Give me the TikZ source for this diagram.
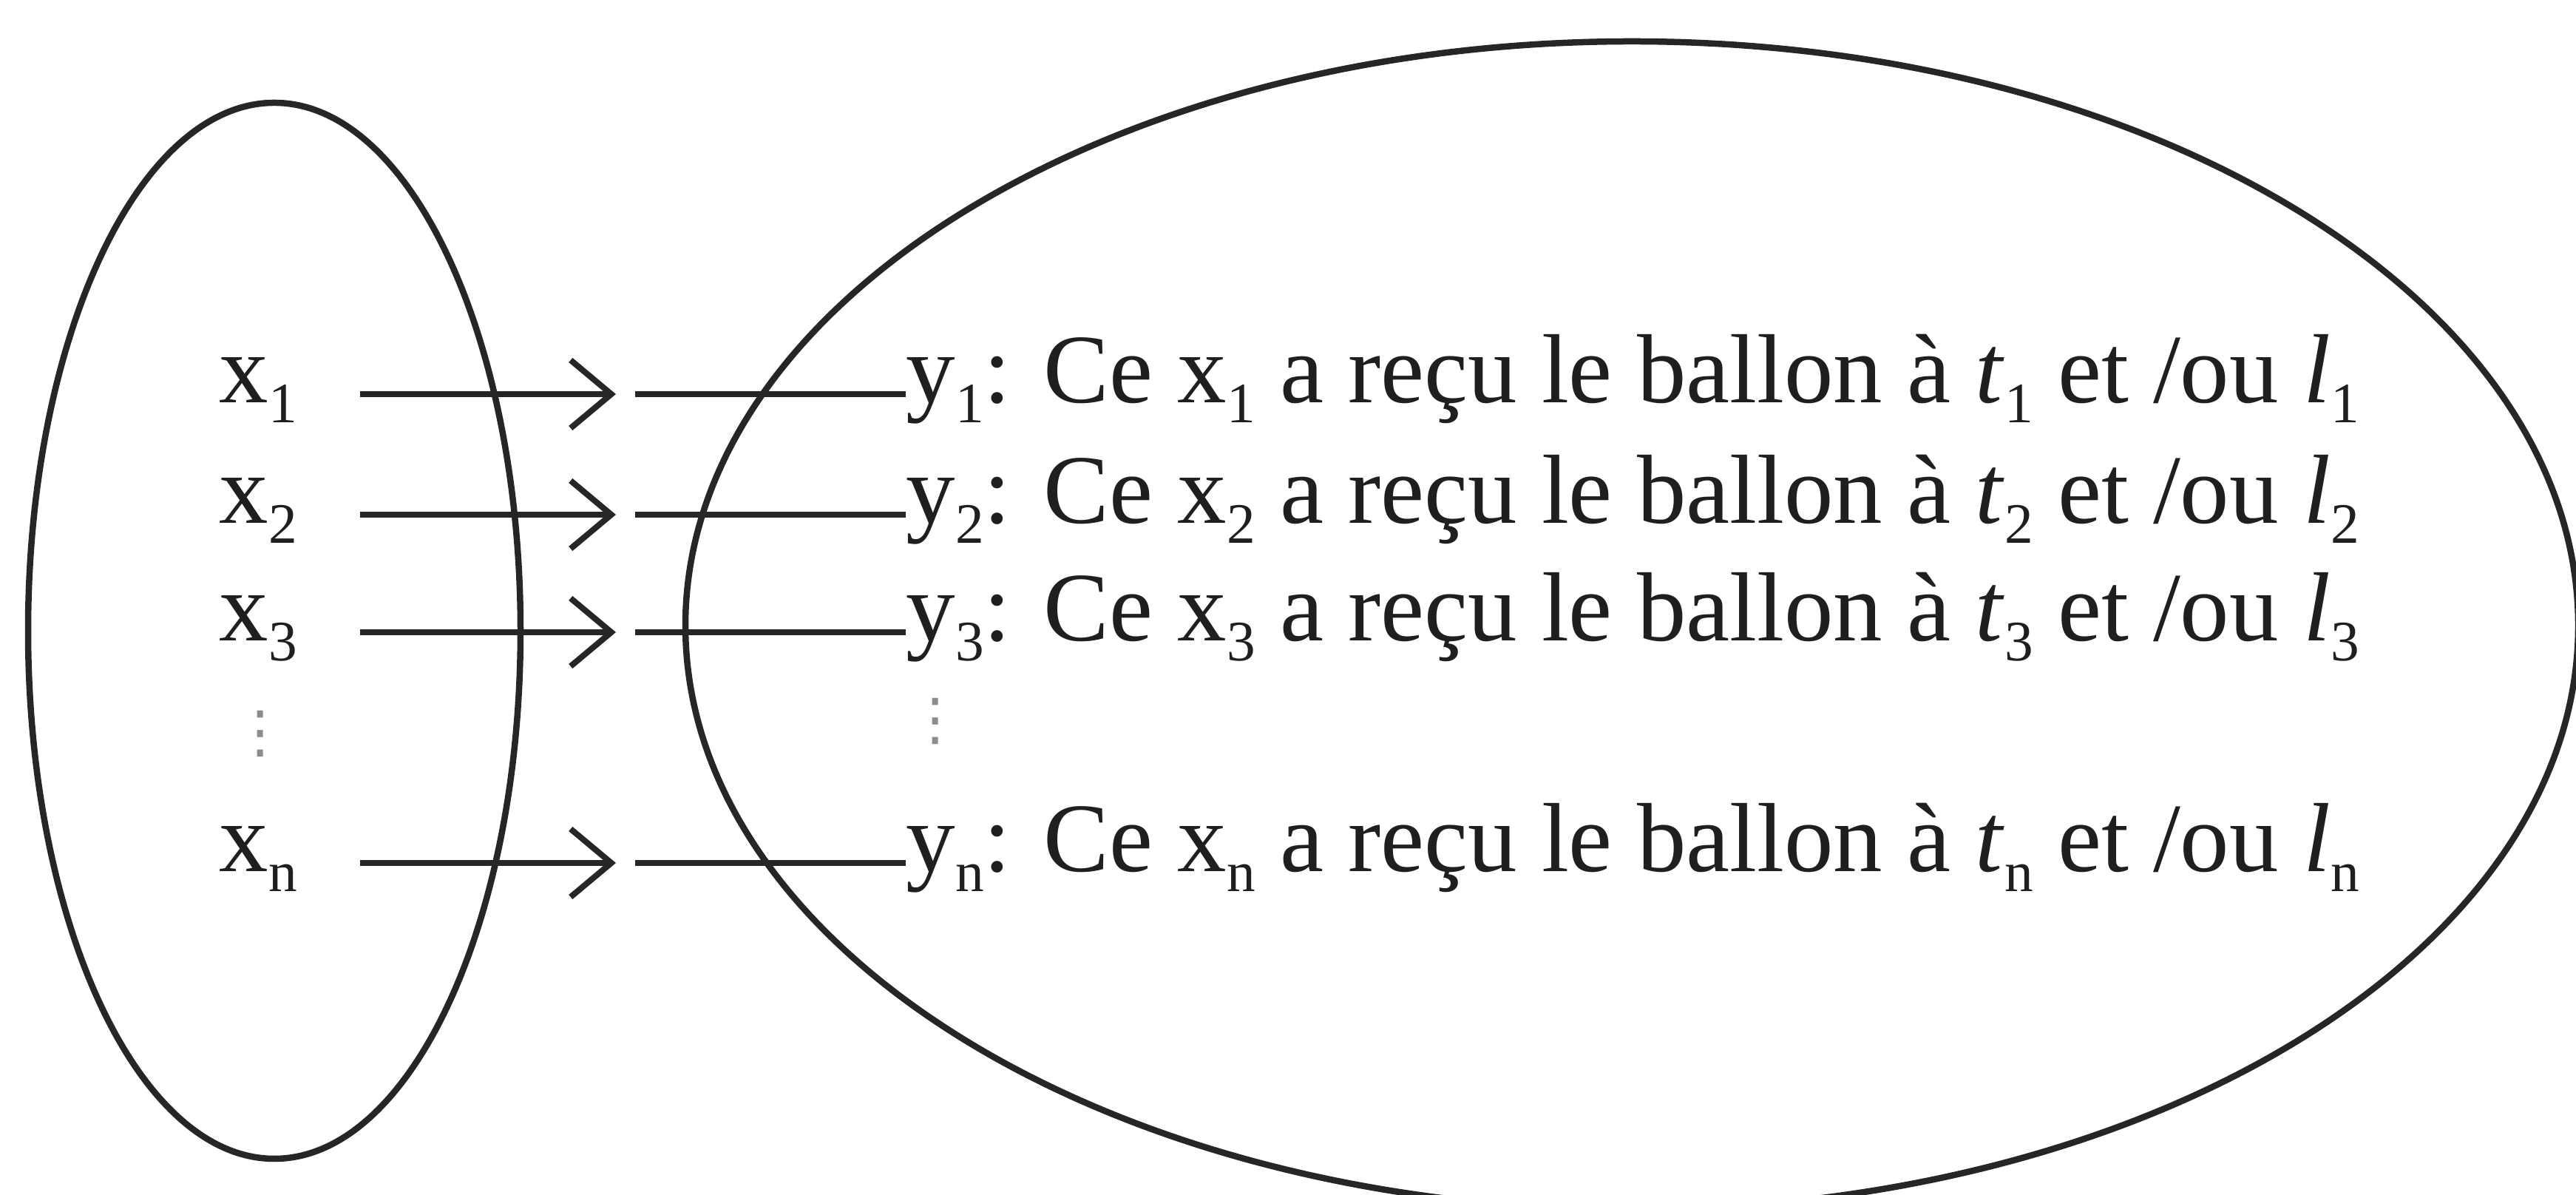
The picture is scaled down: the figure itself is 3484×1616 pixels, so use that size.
\documentclass[tikz,border=0pt]{standalone}
\usepackage{fontspec}
\setmainfont{Liberation Serif}
\newfontfamily\dejavu{DejaVu Sans}
\usetikzlibrary{arrows.meta}
\newcommand\lowidx[1]{\raisebox{-0.2em}{\fontsize{22}{24}\selectfont #1}}
\begin{document}
\begin{tikzpicture}[x=0.1mm,y=0.1mm,
  outline/.style={draw=black!85, line width=0.85mm},
  lbl/.style={inner sep=0pt, anchor=west, text height=0.66em, text depth=0pt,
              font=\fontsize{37.8}{45}\selectfont, text=black!88},
  arr/.style={draw=black!85, line width=0.8mm, shorten <=8.5mm,
              -{Straight Barb[length=5.5mm,width=9.2mm]}},
  link/.style={draw=black!85, line width=0.8mm},
  vdotsstyle/.style={font=\dejavu\fontsize{22}{26}\selectfont, text=black!45, inner sep=0pt}]
\fill[white] (0,0) rectangle (3484,1616);
\useasboundingbox (0,0) rectangle (3484,1616);

% sets
\draw[outline] (371,763) ellipse [x radius=333, y radius=714];
\draw[outline] (2207,770) ellipse [x radius=1280, y radius=790];

% row 1
\node[lbl] (x1) at (296,1083) {x\lowidx{1}};
\coordinate (t1) at (833,1083);
\coordinate (u1) at (859,1083);
\node[lbl] (y1) at (1225,1083) {y\lowidx{1}: Ce x\lowidx{1} a reçu le ballon à \textit{t}\lowidx{1} et /ou \textit{l}\lowidx{1}};
\draw[arr] (x1.east) -- (t1);
\draw[link] (u1) -- (y1.west);

% row 2
\node[lbl] (x2) at (296,920) {x\lowidx{2}};
\coordinate (t2) at (833,920);
\coordinate (u2) at (859,920);
\node[lbl] (y2) at (1225,920) {y\lowidx{2}: Ce x\lowidx{2} a reçu le ballon à \textit{t}\lowidx{2} et /ou \textit{l}\lowidx{2}};
\draw[arr] (x2.east) -- (t2);
\draw[link] (u2) -- (y2.west);

% row 3
\node[lbl] (x3) at (296,761) {x\lowidx{3}};
\coordinate (t3) at (833,761);
\coordinate (u3) at (859,761);
\node[lbl] (y3) at (1225,761) {y\lowidx{3}: Ce x\lowidx{3} a reçu le ballon à \textit{t}\lowidx{3} et /ou \textit{l}\lowidx{3}};
\draw[arr] (x3.east) -- (t3);
\draw[link] (u3) -- (y3.west);

% dots
\node[vdotsstyle] (xdots) at (352,624) {⋮};
\node[vdotsstyle] (ydots) at (1265,641) {⋮};

% row n
\node[lbl] (xn) at (296,449) {x\lowidx{n}};
\coordinate (tn) at (833,449);
\coordinate (un) at (859,449);
\node[lbl] (yn) at (1225,449) {y\lowidx{n}: Ce x\lowidx{n} a reçu le ballon à \textit{t}\lowidx{n} et /ou \textit{l}\lowidx{n}};
\draw[arr] (xn.east) -- (tn);
\draw[link] (un) -- (yn.west);
\end{tikzpicture}
\end{document}
